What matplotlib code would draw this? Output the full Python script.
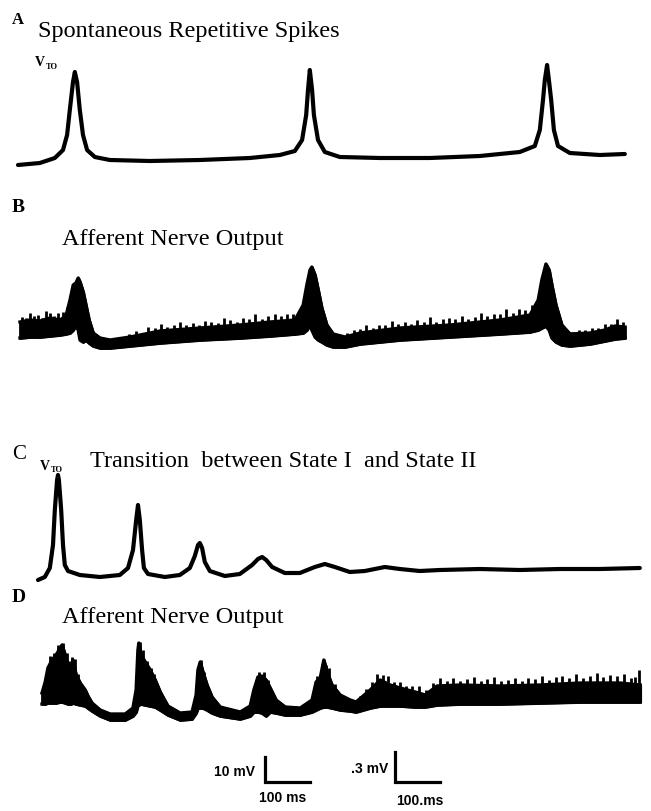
import matplotlib.pyplot as plt
import numpy as np

# figure size in pixels, and the time scale shared by all traces
W, H = 651, 811
MS_PER_PX = 2.2

# A: spontaneous repetitive spikes (ms, mV)
a_t = [0, 48, 81, 99, 108, 114, 121, 125, 130, 136, 143, 152, 169, 202, 290, 400,
       510, 576, 609, 625, 634, 638, 642, 647, 651, 660, 675, 708, 796, 906, 1016,
       1104, 1137, 1148, 1155, 1159, 1164, 1168, 1173, 1179, 1188, 1214, 1280, 1335]
a_v = [-2.0, -1.2, 0.8, 4.0, 10.0, 20.0, 31.2, 35.2, 31.2, 20.0, 10.0, 4.0, 1.2, 0.0, -0.4, 0.0,
       0.8, 2.0, 3.6, 8.0, 18.0, 28.0, 36.0, 28.0, 18.0, 8.0, 3.2, 1.2, 0.8, 0.8, 1.6,
       3.2, 5.6, 12.0, 24.0, 32.0, 38.0, 32.0, 24.0, 12.0, 5.6, 2.8, 2.0, 2.4]

# B: afferent nerve output, band top / bottom (ms, mV)
b_t = [0, 22, 44, 66, 88, 101, 110, 117, 123, 128, 132, 139, 145, 152, 161, 176, 198, 242,
       308, 396, 484, 550, 605, 623, 631, 638, 642, 649, 656, 664, 675, 689, 715, 748, 836,
       946, 1056, 1122, 1140, 1148, 1157, 1164, 1170, 1179, 1192, 1210, 1254, 1287, 1309, 1331]
b_top = [0.08, 0.10, 0.09, 0.12, 0.10, 0.14, 0.30, 0.45, 0.47, 0.52, 0.48, 0.38, 0.25, 0.10,
         -0.03, -0.08, -0.10, -0.07, -0.01, 0.02, 0.05, 0.08, 0.10, 0.25, 0.45, 0.60, 0.63,
         0.55, 0.40, 0.22, 0.05, -0.04, -0.07, -0.03, 0.02, 0.05, 0.10, 0.15, 0.30, 0.50,
         0.66, 0.60, 0.45, 0.25, 0.05, -0.04, -0.03, 0.00, 0.04, 0.03]
b_bot = [-0.08, -0.07, -0.07, -0.06, -0.05, -0.04, -0.03, 0.00, 0.05, 0.00, -0.10, -0.12,
         -0.10, -0.13, -0.16, -0.18, -0.18, -0.16, -0.13, -0.10, -0.08, -0.06, -0.04, -0.03,
         0.00, 0.05, 0.00, -0.07, -0.10, -0.12, -0.15, -0.17, -0.17, -0.14, -0.10, -0.07,
         -0.04, -0.02, 0.00, 0.02, 0.04, 0.00, -0.08, -0.12, -0.15, -0.16, -0.14, -0.11,
         -0.09, -0.08]
# small noise spikes standing on the band (ms, height above band in mV)
b_noise_t = [5, 14, 22, 31, 40, 49, 57, 66, 75, 84, 95, 104,
             240, 255, 268, 282, 297, 310, 323, 338, 352, 365, 380, 394, 407, 421, 436, 449,
             463, 477, 490, 504, 518, 532, 546, 560, 574, 588, 600,
             720, 734, 748, 762, 776, 790, 804, 818, 832, 846, 860, 874, 888, 902, 916, 930,
             944, 958, 972, 986, 1000, 1014, 1028, 1042, 1056, 1070, 1084, 1098, 1112, 1126,
             1215, 1230, 1244, 1258, 1272, 1286, 1300, 1314, 1326]
b_noise_h = [0.05, 0.03, 0.07, 0.04, 0.06, 0.02, 0.08, 0.05, 0.03, 0.07, 0.06, 0.04,
             0.03, 0.05, 0.02, 0.06, 0.04, 0.07, 0.03, 0.05, 0.08, 0.04, 0.06, 0.03, 0.07,
             0.05, 0.04, 0.08, 0.06, 0.03, 0.07, 0.05, 0.09, 0.04, 0.06, 0.08, 0.05, 0.07, 0.06,
             0.03, 0.05, 0.04, 0.07, 0.03, 0.06, 0.05, 0.08, 0.04, 0.06, 0.03, 0.07, 0.05,
             0.09, 0.04, 0.06, 0.07, 0.05, 0.08, 0.04, 0.06, 0.09, 0.05, 0.07, 0.06, 0.10,
             0.05, 0.08, 0.06, 0.07,
             0.02, 0.04, 0.03, 0.05, 0.03, 0.06, 0.04, 0.07, 0.05]

# C: transition between state I and state II (ms, mV)
c_t = [0, 15, 26, 33, 37, 42, 44, 46, 51, 55, 59, 66, 92, 136, 180, 198, 209, 216, 220, 224,
       229, 233, 242, 279, 312, 334, 345, 352, 356, 361, 367, 378, 411, 444, 471, 484, 493,
       502, 515, 543, 576, 609, 631, 653, 686, 719, 763, 796, 840, 884, 972, 1060, 1148,
       1236, 1324]
c_v = [-2.0, -0.8, 2.8, 12.0, 26.0, 38.0, 40.0, 38.0, 26.0, 12.0, 4.0, 1.6, 0.0, -0.8, 0.0,
       2.8, 10.0, 22.0, 28.0, 22.0, 10.0, 2.8, 0.4, -0.8, 0.0, 2.8, 7.6, 12.0, 12.8, 10.8,
       5.2, 1.6, -0.4, 0.4, 4.0, 6.4, 7.2, 6.0, 3.2, 0.8, 0.8, 3.2, 4.4, 3.2, 1.2, 1.6, 3.2,
       2.4, 1.6, 2.0, 2.4, 2.0, 2.4, 2.4, 2.8]

# D: afferent nerve output during the transition (ms, mV)
d_t = [0, 7, 13, 22, 31, 40, 44, 51, 57, 64, 68, 75, 84, 95, 101, 110, 128, 150, 183, 200,
       207, 211, 213, 218, 227, 238, 249, 260, 277, 304, 330, 339, 343, 348, 354, 363, 374,
       392, 436, 458, 466, 475, 484, 493, 502, 515, 535, 568, 594, 603, 612, 620, 627, 638,
       656, 678, 691, 722, 744, 766, 788, 821, 843, 869, 920, 1008, 1096, 1184, 1272, 1316]
d_top = [0.05, 0.16, 0.30, 0.38, 0.43, 0.50, 0.53, 0.43, 0.33, 0.30, 0.38, 0.23, 0.15, 0.08,
         0.02, -0.05, -0.12, -0.16, -0.16, -0.10, 0.08, 0.48, 0.55, 0.43, 0.36, 0.28, 0.18,
         0.06, -0.08, -0.15, -0.14, 0.03, 0.28, 0.36, 0.26, 0.13, 0.01, -0.09, -0.14, -0.08,
         0.08, 0.21, 0.22, 0.18, 0.10, -0.02, -0.09, -0.10, -0.02, 0.16, 0.20, 0.38, 0.26,
         0.13, 0.03, -0.02, -0.04, 0.08, 0.18, 0.13, 0.10, 0.06, 0.03, 0.12, 0.13, 0.12, 0.13,
         0.15, 0.15, 0.13]
d_bot = [-0.06, -0.06, -0.05, -0.05, -0.05, -0.04, -0.04, -0.05, -0.06, -0.06, -0.05, -0.06,
         -0.07, -0.08, -0.10, -0.13, -0.18, -0.22, -0.22, -0.18, -0.14, -0.07, -0.07, -0.06,
         -0.07, -0.08, -0.09, -0.12, -0.17, -0.22, -0.21, -0.15, -0.10, -0.10, -0.10, -0.12,
         -0.15, -0.18, -0.21, -0.18, -0.14, -0.14, -0.15, -0.18, -0.14, -0.15, -0.17, -0.17,
         -0.14, -0.12, -0.10, -0.09, -0.09, -0.10, -0.12, -0.13, -0.14, -0.10, -0.08, -0.08,
         -0.08, -0.09, -0.09, -0.07, -0.06, -0.06, -0.05, -0.04, -0.04, -0.04]
d_noise_t = [10, 18, 26, 35, 47, 55, 60, 66, 72, 80, 215, 222, 232, 240, 246, 350, 356,
             470, 478, 488, 497, 606, 615, 625, 632, 645,
             700, 712, 725, 738, 750, 762, 775, 788, 800, 815, 830, 845, 860, 875, 890, 905,
             920, 935, 950, 965, 980, 995, 1010, 1025, 1040, 1055, 1070, 1085, 1100, 1115,
             1130, 1145, 1160, 1175, 1190, 1205, 1220, 1235, 1250, 1265, 1280, 1295, 1305, 1314]
d_noise_h = [0.04, 0.08, 0.05, 0.07, 0.06, 0.09, 0.05, 0.07, 0.10, 0.05, 0.06, 0.08, 0.05,
             0.04, 0.03, 0.05, 0.03, 0.04, 0.05, 0.06, 0.04, 0.05, 0.07, 0.04, 0.10, 0.05,
             0.03, 0.05, 0.07, 0.09, 0.06, 0.08, 0.04, 0.06, 0.03, 0.05, 0.07, 0.04, 0.06,
             0.08, 0.05, 0.07, 0.04, 0.06, 0.08, 0.05, 0.07, 0.09, 0.05, 0.06, 0.08, 0.04,
             0.07, 0.06, 0.09, 0.05, 0.07, 0.08, 0.06, 0.09, 0.05, 0.07, 0.10, 0.06, 0.08,
             0.07, 0.09, 0.06, 0.08, 0.15]


def panel(x0, y0, mv_per_px):
    # transparent axes over the whole figure, trace origin at pixel (x0, y0)
    ax = fig.add_axes([0, 0, 1, 1])
    ax.axis('off')
    ax.patch.set_alpha(0)
    ax.set_xlim(-x0 * MS_PER_PX, (W - x0) * MS_PER_PX)
    ax.set_ylim(-(H - y0) * mv_per_px, y0 * mv_per_px)
    return ax


def txt(x, y, s, **kw):
    fig.text(x / W, 1 - y / H, s, **kw)


fig = plt.figure(figsize=(W / 100, H / 100), dpi=100)

ax = panel(18, 160, 0.4)
ax.plot(a_t, a_v, color='black', lw=3, solid_capstyle='round', solid_joinstyle='round')

ax = panel(38, 575, 0.4)
ax.plot(c_t, c_v, color='black', lw=3, solid_capstyle='round', solid_joinstyle='round')

for x0, y0, t, top, bot, nt, nh in [(20, 330, b_t, b_top, b_bot, b_noise_t, b_noise_h),
                                    (42, 698, d_t, d_top, d_bot, d_noise_t, d_noise_h)]:
    ax = panel(x0, y0, 0.01)
    ax.fill_between(t, bot, top, color='black', lw=2)
    ax.plot(t, top, color='black', lw=2.4)
    ax.plot(t, bot, color='black', lw=2.4)
    base = np.interp(nt, t, top)
    ax.vlines(nt, base - 0.02, base + np.array(nh), color='black', lw=2.0)

# scale bars
ax = panel(265, 782, 0.4)
ax.plot([0, 0, 100], [10, 0, 0], color='black', lw=2.3, solid_joinstyle='miter')
ax = panel(395, 782, 0.01)
ax.plot([0, 0, 100], [0.3, 0, 0], color='black', lw=2.3, solid_joinstyle='miter')

serif = 'Liberation Serif'
sans = 'Liberation Sans'
txt(12, 24, 'A', family=serif, weight='bold', fontsize=12)
txt(38, 31, 'Spontaneous Repetitive Spikes', family=serif, fontsize=17.5, va='center')
txt(35, 63, 'V', family=serif, weight='bold', fontsize=10, va='center')
txt(46, 67, 'TO', family=serif, weight='bold', fontsize=6, va='center')

txt(12, 207, 'B', family=serif, weight='bold', fontsize=14, va='center')
txt(62, 240, 'Afferent Nerve Output', family=serif, fontsize=17.5, va='center')

txt(12, 454, 'C', family=serif, fontsize=15, va='center')
txt(40, 466, 'V', family=serif, weight='bold', fontsize=10, va='center')
txt(51, 470, 'TO', family=serif, weight='bold', fontsize=6, va='center')
txt(90, 462, 'Transition  between State I  and State II', family=serif, fontsize=17.5,
    va='center')

txt(12, 598, 'D', family=serif, weight='bold', fontsize=14, va='center')
txt(62, 618, 'Afferent Nerve Output', family=serif, fontsize=17.5, va='center')

txt(255, 772, '10 mV', family=sans, weight='bold', fontsize=10, ha='right', va='center')
txt(283, 798, '100 ms', family=sans, weight='bold', fontsize=10, ha='center', va='center')
txt(388, 769, '.3 mV', family=sans, weight='bold', fontsize=10, ha='right', va='center')
txt(420, 801, '100.ms', family=sans, weight='bold', fontsize=10, ha='center', va='center')

fig.savefig('out.png', dpi=100, facecolor='white')
